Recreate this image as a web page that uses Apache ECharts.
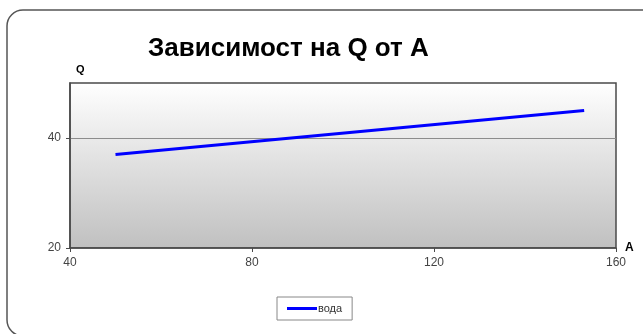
<!DOCTYPE html>
<html>
<head>
<meta charset="utf-8">
<script src="https://cdn.jsdelivr.net/npm/echarts@6/dist/echarts.min.js"></script>
<style>
  html, body { margin: 0; padding: 0; background: #fff; }
  #chart { width: 643px; height: 334px; }
</style>
</head>
<body>
<div id="chart"></div>
<script>
// A values and matching Q values for the series "вода"
const aValues = [50, 153];
const qValues = [37, 45];
const seriesName = 'вода';
const xTicks = [40, 80, 120, 160];
const yTicks = [20, 40];

const chart = echarts.init(document.getElementById('chart'));
chart.setOption({
  animation: false,
  backgroundColor: '#fff',
  title: {
    text: 'Зависимост на Q от А',
    left: 143,
    top: 31,
    textStyle: { fontFamily: 'Liberation Sans', fontSize: 26, fontWeight: 'bold', color: '#000' }
  },
  graphic: [{
    type: 'rect',
    shape: { x: 7, y: 10, width: 660, height: 326, r: 16 },
    style: { fill: 'none', stroke: '#555', lineWidth: 1.5 },
    silent: true,
    z: 100
  }],
  grid: {
    left: 70, top: 83, right: 27, bottom: 86,
    show: true,
    borderColor: '#4a4a4a',
    borderWidth: 1.5,
    backgroundColor: {
      type: 'linear', x: 0, y: 0, x2: 0, y2: 1,
      colorStops: [{ offset: 0, color: '#ffffff' }, { offset: 1, color: '#c0c0c0' }]
    }
  },
  legend: {
    data: [seriesName],
    left: 277,
    top: 297,
    itemWidth: 30,
    itemHeight: 3,
    itemGap: 2,
    padding: [6, 10, 6, 10],
    borderColor: '#888',
    borderWidth: 1,
    icon: 'rect',
    textStyle: { fontFamily: 'Liberation Sans', fontSize: 11, color: '#333', padding: [0, 0, 0, -4] }
  },
  xAxis: {
    type: 'value',
    min: xTicks[0],
    max: xTicks[xTicks.length - 1],
    interval: 40,
    name: 'A',
    nameGap: 9,
    nameTextStyle: { fontFamily: 'Liberation Sans', fontSize: 12, fontWeight: 'bold', color: '#000', verticalAlign: 'middle', padding: [6, 0, 0, 0] },
    axisLine: { show: true, lineStyle: { color: '#4a4a4a', width: 1.5 } },
    axisTick: { show: true, length: 4, lineStyle: { color: '#4a4a4a' } },
    axisLabel: { fontFamily: 'Liberation Sans', fontSize: 12, color: '#444', margin: 9 },
    splitLine: { show: false }
  },
  yAxis: {
    type: 'value',
    min: yTicks[0],
    max: 50,
    interval: 20,
    name: 'Q',
    nameGap: 8,
    nameTextStyle: { fontFamily: 'Liberation Sans', fontSize: 11, fontWeight: 'bold', color: '#000', align: 'left', padding: [0, 0, 0, 6] },
    axisLine: { show: true, lineStyle: { color: '#4a4a4a', width: 1.5 } },
    axisTick: { show: true, length: 4, lineStyle: { color: '#4a4a4a' }, customValues: yTicks },
    axisLabel: { fontFamily: 'Liberation Sans', fontSize: 12, color: '#444', margin: 9, customValues: yTicks },
    splitLine: { show: true, lineStyle: { color: '#8c8c8c', width: 1 } }
  },
  series: [{
    name: seriesName,
    type: 'line',
    data: aValues.map((a, i) => [a, qValues[i]]),
    showSymbol: false,
    lineStyle: { color: '#0000ff', width: 3 },
    itemStyle: { color: '#0000ff' }
  }]
});
</script>
</body>
</html>
